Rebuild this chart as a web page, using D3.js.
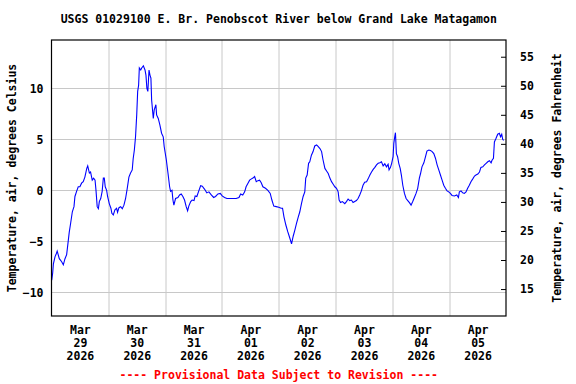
<!DOCTYPE html>
<html>
<head>
<meta charset="utf-8">
<script src="https://cdn.jsdelivr.net/npm/d3@7"></script>
<style>
  body { margin: 0; background: #fff; }
  svg { display: block; }
  text { font-family: "DejaVu Sans Mono", "Liberation Mono", monospace; font-weight: bold; font-size: 11.5px; }
</style>
</head>
<body>
<div id="chart"></div>
<script>
const title = "USGS 01029100 E. Br. Penobscot River below Grand Lake Matagamon";
const leftLabel = "Temperature, air, degrees Celsius";
const rightLabel = "Temperature, air, degrees Fahrenheit";
const footNote = "---- Provisional Data Subject to Revision ----";

// hours since 2026-03-29 00:00
const hours = [0.1,0.5,0.8,1.5,1.9,2.4,3.3,4.3,5.0,5.7,6.4,7.1,7.5,8.1,8.8,9.5,9.9,10.6,11.3,12.0,
  12.7,13.4,14.1,14.9,15.3,16.0,16.5,17.2,17.8,18.4,18.8,19.3,19.8,20.2,20.8,21.4,21.9,22.3,22.7,23.3,
  23.7,24.4,25.1,25.5,26.1,26.8,27.5,27.9,28.5,29.2,29.9,30.6,31.3,32.0,32.7,33.4,34.1,34.5,35.0,35.5,
  36.0,36.4,36.8,37.1,37.7,38.1,38.8,39.5,39.9,40.3,40.7,41.2,41.6,42.0,42.3,43.0,43.4,44.1,44.4,45.1,
  45.8,46.5,47.2,47.6,48.5,49.2,49.9,50.3,50.9,51.3,51.7,52.4,53.4,54.1,54.8,55.5,56.2,56.9,57.5,58.0,
  58.8,59.4,60.2,60.7,61.4,62.3,63.0,63.7,64.7,65.6,66.5,67.5,68.5,69.3,70.3,71.3,72.1,73.1,74.1,75.2,
  76.6,78.0,79.2,79.9,80.8,81.6,82.2,83.0,83.7,84.3,85.1,85.8,86.5,87.2,87.9,88.6,89.3,90.4,91.4,92.4,
  93.1,93.9,94.9,96.0,97.0,97.6,98.2,99.0,99.8,100.7,101.4,102.1,102.8,103.5,104.2,104.9,105.6,106.3,107.0,107.4,
  108.0,108.6,109.1,109.8,110.5,111.2,112.0,112.6,113.4,114.1,114.7,115.5,116.2,116.9,117.6,118.3,119.0,119.7,120.4,121.1,
  121.5,122.1,122.9,123.9,124.6,125.3,126.0,126.7,127.4,128.1,128.8,129.5,130.2,130.9,131.6,132.3,133.1,133.7,134.5,135.2,
  135.9,136.6,137.3,138.0,138.7,139.4,140.1,140.8,141.5,142.2,142.6,143.2,143.7,144.3,144.6,145.0,145.3,145.7,146.2,146.7,
  147.3,147.8,148.4,149.1,149.8,150.5,151.2,151.9,152.6,153.3,154.0,154.7,155.4,155.9,156.5,157.3,158.0,158.6,159.4,160.1,
  160.8,161.5,162.2,162.9,163.6,164.3,165.0,165.7,166.4,167.1,167.8,168.5,169.2,170.2,171.2,171.9,172.3,173.0,173.7,174.4,
  175.1,175.8,176.5,177.2,177.9,178.7,179.3,180.1,180.8,181.4,182.2,182.9,183.6,184.3,185.0,185.7,186.1,186.7,187.1,187.8,
  188.5,189.2,189.7,190.2,190.6,191.0];

const tempC = [-8.8,-8.1,-7.2,-6.5,-6.3,-5.95,-6.7,-7.0,-7.3,-6.7,-6.3,-4.9,-4.1,-3.2,-2.1,-1.6,-0.6,-0.1,0.35,0.35,
  0.7,0.85,1.3,2.15,2.4,1.7,1.8,1.0,1.2,1.0,0,-1.6,-1.8,-1.1,-0.8,-0.1,1.2,1.2,0.35,0,
  -0.6,-1.3,-1.75,-2.25,-2.4,-1.9,-1.75,-2.15,-1.7,-1.6,-1.8,-1.45,-0.8,0.2,1.3,1.7,2.0,3.1,3.95,5.25,
  7.4,9.7,10.3,12.0,11.8,12.0,12.2,11.8,11.3,10.0,9.7,11.8,11.3,11.0,8.85,7.05,7.9,8.4,7.4,7.05,
  6.4,5.6,5.25,4.3,3.0,1.7,0.35,-0.1,0,-0.95,-1.45,-0.8,-0.7,-0.45,-0.35,-0.6,-0.95,-1.6,-2.0,-1.55,
  -1.1,-0.95,-1.0,-0.55,-0.6,0,0.45,0.4,0.1,-0.25,-0.15,-0.45,-0.7,-0.6,-0.35,-0.3,-0.55,-0.7,-0.8,-0.8,
  -0.8,-0.8,-0.7,-0.35,-0.45,-0.15,0.35,0.7,1.0,1.1,1.2,1.35,0.85,0.95,1.0,0.75,0.35,0.2,0,-0.3,
  -0.95,-1.55,-1.6,-1.65,-1.75,-1.75,-2.6,-3.4,-4.05,-4.7,-5.25,-4.5,-3.9,-3.25,-2.65,-2.1,-1.3,-0.6,-0.15,1.2,
  1.5,2.65,2.8,3.45,3.8,4.35,4.45,4.3,4.1,3.8,3.0,2.15,1.9,1.65,1.2,0.85,0.6,0.35,0.2,-0.15,
  -0.95,-1.2,-1.1,-1.3,-1.1,-0.85,-1.0,-0.95,-1.2,-1.1,-1.0,-0.8,-0.45,-0.05,0.5,0.8,0.85,1.1,1.5,1.8,
  2.05,2.25,2.5,2.65,2.7,2.8,2.4,2.6,2.3,2.55,2.0,2.25,2.65,3.3,4.6,5.25,5.65,3.6,3.3,2.65,
  2.15,1.5,0.5,-0.3,-0.8,-1.0,-1.2,-1.45,-1.1,-0.7,-0.3,0.2,1.2,1.65,2.3,2.7,3.3,3.85,3.95,3.9,
  3.8,3.6,3.15,2.5,2.0,1.5,1.0,0.5,0.2,-0.05,-0.15,-0.3,-0.5,-0.55,-0.45,-0.7,-0.15,-0.05,-0.25,-0.3,
  -0.15,0.2,0.5,0.85,1.1,1.4,1.5,1.6,1.8,2.25,2.3,2.5,2.65,2.8,2.9,2.7,2.95,3.15,4.75,5.1,
  5.5,5.6,5.25,5.5,5.0,4.9];

const dayMonths = ["Mar","Mar","Mar","Apr","Apr","Apr","Apr","Apr"];
const dayNums = ["29","30","31","01","02","03","04","05"];
const dayYears = ["2026","2026","2026","2026","2026","2026","2026","2026"];
const celsiusTicks = [-10, -5, 0, 5, 10];
const fahrenheitTicks = [15, 20, 25, 30, 35, 40, 45, 50, 55];

const width = 576, height = 384;
const margin = { top: 40, right: 70, bottom: 68, left: 51.5 };
const innerW = width - margin.left - margin.right;
const innerH = height - margin.top - margin.bottom;

const start = Date.UTC(2026, 2, 29);
const end = Date.UTC(2026, 3, 6);
const data = hours.map((h, i) => ({ t: new Date(start + h * 3600e3), v: tempC[i] }));

const x = d3.scaleUtc().domain([new Date(start), new Date(end)]).range([0, innerW]);
const yC = d3.scaleLinear().domain([-12.32, 14.74]).range([innerH, 0]);
const yF = d3.scaleLinear().domain([10.36, 57.88]).range([innerH, 0]);

const svg = d3.select("#chart").append("svg")
  .attr("width", width)
  .attr("height", height);

svg.append("text")
  .attr("x", margin.left + innerW / 2)
  .attr("y", 23)
  .attr("text-anchor", "middle")
  .text(title);

const g = svg.append("g").attr("transform", `translate(${margin.left},${margin.top})`);

// grid
const midnights = d3.range(1, 8).map(d => new Date(start + d * 864e5));
g.selectAll(".vgrid").data(midnights).enter().append("line")
  .attr("class", "vgrid")
  .attr("x1", d => Math.round(x(d)) + 0.5).attr("x2", d => Math.round(x(d)) + 0.5)
  .attr("y1", 0).attr("y2", innerH)
  .attr("stroke", "#c8c8c8");

g.selectAll(".hgrid").data(celsiusTicks).enter().append("line")
  .attr("class", "hgrid")
  .attr("x1", 0).attr("x2", innerW)
  .attr("y1", d => Math.round(yC(d)) + 0.5).attr("y2", d => Math.round(yC(d)) + 0.5)
  .attr("stroke", "#c8c8c8");

// line
const line = d3.line().x(d => x(d.t)).y(d => yC(d.v));
g.append("path")
  .datum(data)
  .attr("d", line)
  .attr("fill", "none")
  .attr("stroke", "#0000ff")
  .attr("stroke-width", 1.1);

// frame
g.append("rect")
  .attr("x", 0).attr("y", 0)
  .attr("width", innerW).attr("height", innerH)
  .attr("fill", "none")
  .attr("stroke", "#000")
  .attr("stroke-width", 1.2);

// left axis
const leftAxis = g.append("g")
  .call(d3.axisLeft(yC).tickValues(celsiusTicks).tickSize(0).tickPadding(8).tickFormat(d3.format("d")));
leftAxis.select(".domain").remove();
leftAxis.selectAll("text").attr("fill", "#000");

// right axis, ticks pointing inward
const rightAxis = g.append("g")
  .attr("transform", `translate(${innerW},0)`)
  .call(d3.axisRight(yF).tickValues(fahrenheitTicks).tickSize(-5).tickPadding(14));
rightAxis.select(".domain").remove();
rightAxis.selectAll("line").attr("stroke", "#000");
rightAxis.selectAll("text").attr("fill", "#000");

// bottom axis, labels at noon
const noons = d3.range(0, 8).map(d => new Date(start + d * 864e5 + 12 * 3600e3));
const bottomAxis = g.append("g")
  .attr("transform", `translate(0,${innerH})`)
  .call(d3.axisBottom(x).tickValues(noons).tickSize(0).tickFormat(""));
bottomAxis.select(".domain").remove();
bottomAxis.selectAll(".tick").each(function(d, i) {
  const t = d3.select(this).select("text")
    .attr("y", 0).attr("dy", null)
    .attr("fill", "#000");
  [dayMonths[i], dayNums[i], dayYears[i]].forEach((s, k) => {
    t.append("tspan").attr("x", 0).attr("y", 18 + k * 13).text(s);
  });
});

// axis titles
svg.append("text")
  .attr("transform", `translate(16,${margin.top + innerH / 2}) rotate(-90)`)
  .attr("text-anchor", "middle")
  .text(leftLabel);

svg.append("text")
  .attr("transform", `translate(561,${margin.top + innerH / 2}) rotate(-90)`)
  .attr("text-anchor", "middle")
  .text(rightLabel);

svg.append("text")
  .attr("x", margin.left + innerW / 2)
  .attr("y", 379)
  .attr("text-anchor", "middle")
  .attr("fill", "#ff0000")
  .text(footNote);
</script>
</body>
</html>
